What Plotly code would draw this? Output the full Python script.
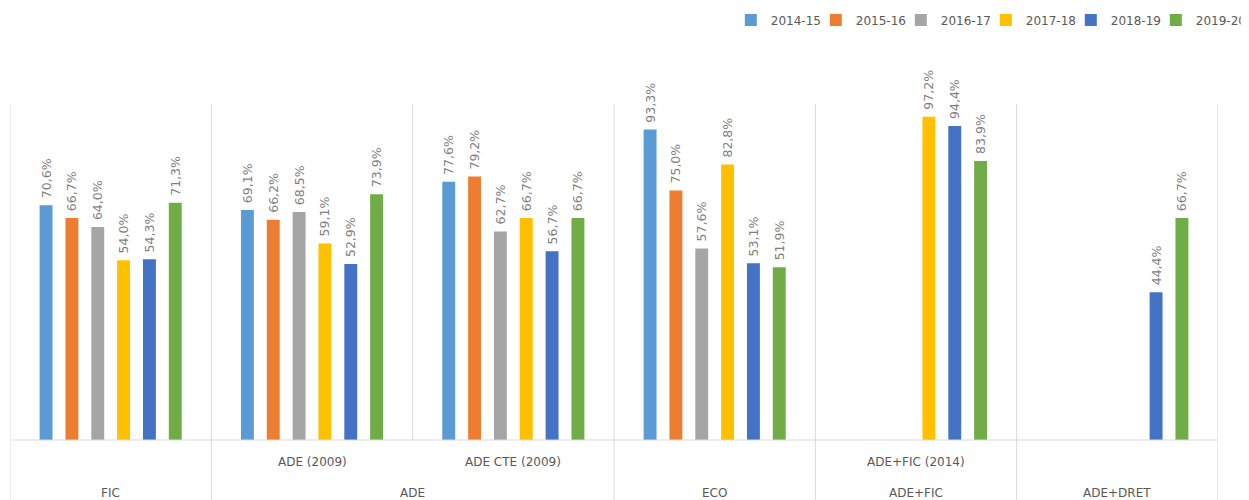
import plotly.graph_objects as go

# ---- data ----
groups = ["FIC", "ADE", "ADE", "ECO", "ADE+FIC", "ADE+DRET"]
subcats = ["", "ADE (2009)", "ADE CTE (2009)", "", "ADE+FIC (2014)", ""]
years = ["2014-15", "2015-16", "2016-17", "2017-18", "2018-19", "2019-20"]

v_2014_15 = [0.706, 0.691, 0.776, 0.933, None, None]
v_2015_16 = [0.667, 0.662, 0.792, 0.750, None, None]
v_2016_17 = [0.640, 0.685, 0.627, 0.576, None, None]
v_2017_18 = [0.540, 0.591, 0.667, 0.828, 0.972, None]
v_2018_19 = [0.543, 0.529, 0.567, 0.531, 0.944, 0.444]
v_2019_20 = [0.713, 0.739, 0.667, 0.519, 0.839, 0.667]
series = [v_2014_15, v_2015_16, v_2016_17, v_2017_18, v_2018_19, v_2019_20]

colors = ["#5b9bd5", "#ed7d31", "#a5a5a5", "#ffc000", "#4472c4", "#70ad47"]

keys = [g + "|" + s for g, s in zip(groups, subcats)]

fig = go.Figure()
for name, vals, col in zip(years, series, colors):
    fig.add_trace(go.Bar(
        x=keys, y=vals, name=name, marker_color=col,
        marker_line_width=0,
        texttemplate="\u00a0%{y:.1%}", textposition="outside", textangle=-90,
        textfont=dict(family="DejaVu Sans", size=12.5, color="#7f7f7f"),
        cliponaxis=False, constraintext="none",
    ))

GRID = "#d9d9d9"
plot_h = 336.0
bottom_ext = -60.0 / plot_h

shapes = []
n = len(keys)
for b in range(n + 1):
    xpos = b - 0.5
    inner = 0 < b < n and groups[b - 1] == groups[b]
    shapes.append(dict(type="line", xref="x", yref="paper",
                       x0=xpos, x1=xpos, y0=0 if inner else bottom_ext, y1=1,
                       line=dict(color=GRID, width=1)))
shapes.append(dict(type="line", xref="paper", yref="paper", x0=0, x1=1, y0=0, y1=0,
                   line=dict(color=GRID, width=1)))

annotations = []
lab_font = dict(family="DejaVu Sans", size=12, color="#595959")
for i, s in enumerate(subcats):
    if s:
        annotations.append(dict(x=i, y=-22.0 / plot_h, xref="x", yref="paper",
                                text=s, showarrow=False, font=lab_font,
                                xanchor="center", yanchor="middle"))
seen = []
for g in groups:
    if g not in seen:
        seen.append(g)
for g in seen:
    idx = [i for i, gg in enumerate(groups) if gg == g]
    annotations.append(dict(x=sum(idx) / len(idx), y=-53.0 / plot_h, xref="x", yref="paper",
                            text=g, showarrow=False, font=lab_font,
                            xanchor="center", yanchor="middle"))

fig.update_layout(
    width=1241, height=492,
    margin=dict(l=2, r=31, t=96, b=60, autoexpand=False),
    paper_bgcolor="white", plot_bgcolor="white",
    barmode="group", bargap=0.23, bargroupgap=0.5,
    separators=",.",
    showlegend=True,
    legend=dict(orientation="h", x=0.5967, xanchor="left", y=1.25, yanchor="middle",
                entrywidth=40, entrywidthmode="pixels",
                font=dict(family="DejaVu Sans", size=12, color="#595959"),
                bgcolor="rgba(0,0,0,0)"),
    xaxis=dict(type="category", range=[-0.5, n - 0.5], showticklabels=False,
               showgrid=False, zeroline=False, showline=False, ticks=""),
    yaxis=dict(range=[0, 1.01], showticklabels=False, showgrid=False,
               zeroline=False, showline=False, ticks=""),
    shapes=shapes, annotations=annotations,
)

fig.write_html("out.html")
